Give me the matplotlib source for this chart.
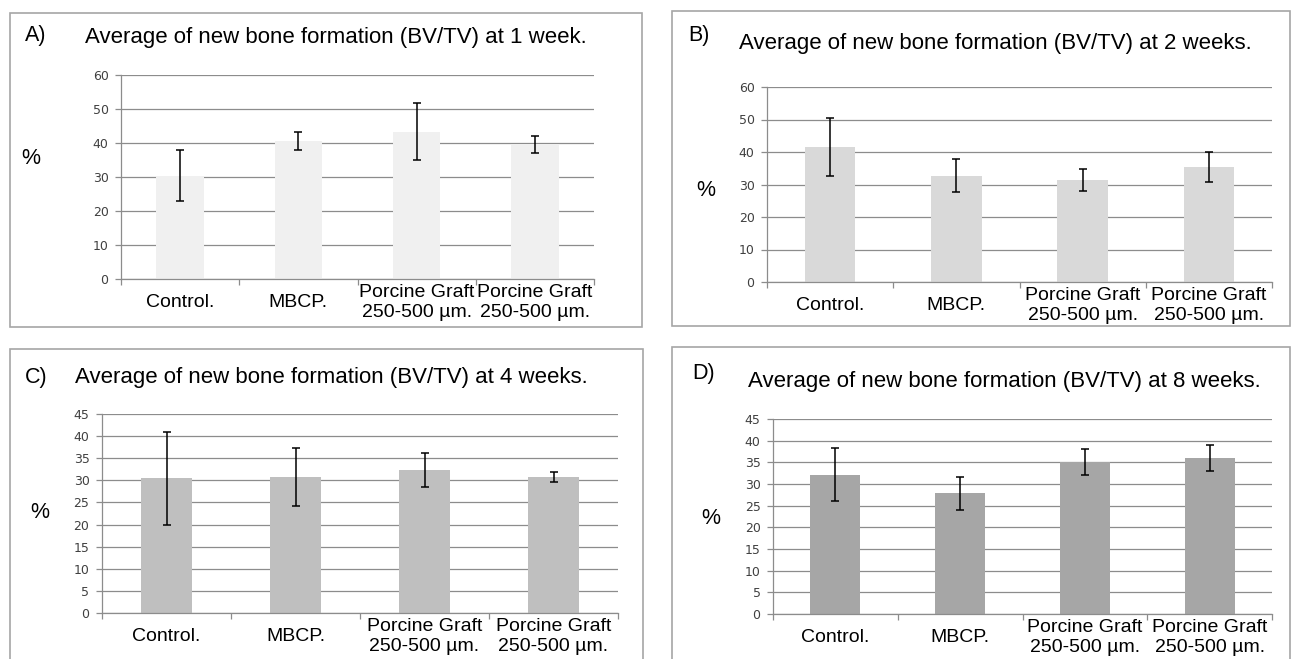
import matplotlib
matplotlib.use("Agg")
import matplotlib.pyplot as plt
from matplotlib.patches import Rectangle

W, H = 1292, 659

categories = ["Control.", "MBCP.", "Porcine Graft\n250-500 µm.", "Porcine Graft\n250-500 µm."]

# mean BV/TV (%) and error (+/-) per time point
mean_1w = [30.4, 40.6, 43.3, 39.6]
err_1w = [7.6, 2.7, 8.4, 2.4]
mean_2w = [41.6, 32.7, 31.4, 35.4]
err_2w = [8.9, 5.0, 3.5, 4.6]
mean_4w = [30.5, 30.8, 32.3, 30.8]
err_4w = [10.5, 6.5, 3.8, 1.1]
mean_8w = [32.1, 27.9, 35.1, 36.1]
err_8w = [6.1, 3.8, 3.0, 3.0]

titles = [
    "Average of new bone formation (BV/TV) at 1 week.",
    "Average of new bone formation (BV/TV) at 2 weeks.",
    "Average of new bone formation (BV/TV) at 4 weeks.",
    "Average of new bone formation (BV/TV) at 8 weeks.",
]
letters = ["A)", "B)", "C)", "D)"]
ymax = [60, 60, 45, 45]
ystep = [10, 10, 5, 5]
bar_colors = ["#f0f0f0", "#d9d9d9", "#bfbfbf", "#a6a6a6"]

# layout in pixels (x0, y0, x1, y1) measured from top-left
axes_px = [(121, 75, 594, 279), (767, 87, 1272, 282), (102, 414, 618, 613), (773, 419, 1272, 614)]
box_px = [(10, 13, 642, 327), (672, 11, 1290, 326), (10, 349, 643, 680), (672, 347, 1290, 680)]
letter_px = [(25, 36), (688, 36), (25, 378), (692, 373)]
title_px = [(85, 38), (739, 43), (75, 378), (748, 381)]
pct_px = [(31, 159), (706, 190), (40, 513), (711, 518)]

SANS = ["Liberation Sans", "DejaVu Sans"]


def frac(x, y):
    return x / W, 1 - y / H


fig = plt.figure(figsize=(W / 100, H / 100), dpi=100)
fig.patch.set_facecolor("white")

means = [mean_1w, mean_2w, mean_4w, mean_8w]
errs = [err_1w, err_2w, err_4w, err_8w]

for i in range(4):
    bx0, by0, bx1, by1 = box_px[i]
    fig.add_artist(Rectangle(frac(bx0, by1), (bx1 - bx0) / W, (by1 - by0) / H,
                             transform=fig.transFigure, fill=False,
                             edgecolor="#a6a6a6", linewidth=1.2))

    x0, y0, x1, y1 = axes_px[i]
    l, b = frac(x0, y1)
    ax = fig.add_axes([l, b, (x1 - x0) / W, (y1 - y0) / H])
    ax.set_facecolor("none")
    xs = range(len(categories))
    ax.bar(xs, means[i], width=0.4, color=bar_colors[i], zorder=2)
    ax.errorbar(xs, means[i], yerr=errs[i], fmt="none", ecolor="black",
                elinewidth=1.1, capsize=2.8, capthick=1.1, zorder=3)
    ax.set_xlim(-0.5, len(categories) - 0.5)
    ax.set_ylim(0, ymax[i])
    ax.set_yticks(range(0, ymax[i] + 1, ystep[i]))
    ax.yaxis.grid(True, color="#8c8c8c", linewidth=0.9, zorder=1)
    ax.set_axisbelow(True)
    for s in ["top", "right"]:
        ax.spines[s].set_visible(False)
    for s in ["left", "bottom"]:
        ax.spines[s].set_color("#8c8c8c")
        ax.spines[s].set_linewidth(0.9)

    ax.set_xticks(list(xs))
    ax.set_xticklabels(categories, family=SANS, fontsize=14, color="black")
    ax.set_xticks([k - 0.5 for k in range(len(categories) + 1)], minor=True)
    ax.tick_params(axis="x", which="major", length=0, pad=17)
    ax.tick_params(axis="x", which="minor", length=4, color="#8c8c8c", width=0.9)
    for t in ax.get_xticklabels():
        t.set_va("center")
        t.set_linespacing(1.2)
    ax.tick_params(axis="y", length=4, color="#8c8c8c", width=0.9, pad=5,
                   labelsize=9, labelcolor="#404040")
    for t in ax.get_yticklabels():
        t.set_family("DejaVu Sans")

    fig.text(*frac(*letter_px[i]), letters[i], family=SANS, fontsize=15.5, va="center", ha="left")
    fig.text(*frac(*title_px[i]), titles[i], family=SANS, fontsize=16, va="center", ha="left")
    fig.text(*frac(*pct_px[i]), "%", family=SANS, fontsize=15.5, va="center", ha="center")

fig.savefig("out.png", dpi=100, facecolor="white")
